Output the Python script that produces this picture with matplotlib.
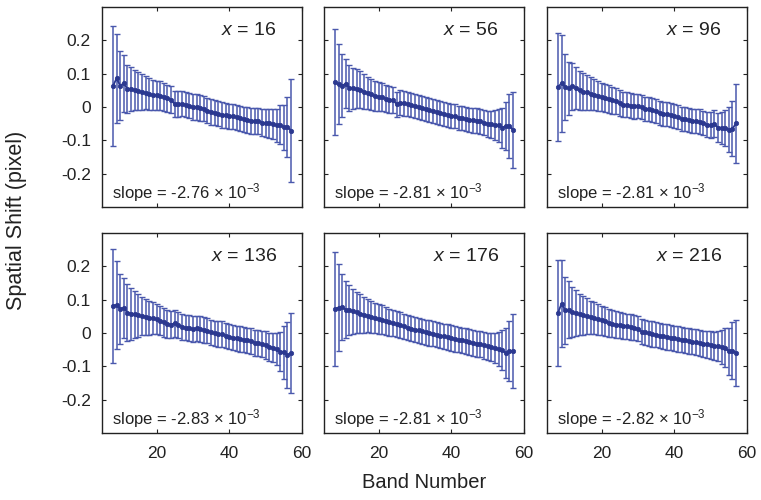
import numpy as np
import matplotlib
matplotlib.use("Agg")
import matplotlib.pyplot as plt

plt.rcParams['font.family'] = ['Liberation Sans', 'DejaVu Sans']
plt.rcParams['mathtext.fontset'] = 'custom'
plt.rcParams['mathtext.rm'] = 'Liberation Sans'
plt.rcParams['mathtext.it'] = 'Liberation Sans:italic'

bands = list(range(8, 58))

x_labels = [16, 56, 96, 136, 176, 216]
slopes = ["-2.76", "-2.81", "-2.81", "-2.83", "-2.81", "-2.82"]

mean_x16 = [0.062, 0.086, 0.064, 0.071, 0.054, 0.055, 0.050, 0.048, 0.045, 0.043,
            0.039, 0.036, 0.035, 0.034, 0.030, 0.026, 0.022, 0.008, 0.009, 0.010,
            0.007, 0.004, 0.000, 0.000, -0.003, -0.005, -0.011, -0.015, -0.017, -0.020,
            -0.024, -0.025, -0.028, -0.028, -0.031, -0.034, -0.037, -0.039, -0.041, -0.042,
            -0.043, -0.047, -0.048, -0.049, -0.051, -0.055, -0.053, -0.061, -0.059, -0.071]
err_x16 = [0.180, 0.134, 0.103, 0.085, 0.072, 0.066, 0.060, 0.056, 0.053, 0.050,
           0.048, 0.046, 0.044, 0.043, 0.042, 0.041, 0.040, 0.039, 0.039, 0.038,
           0.038, 0.038, 0.038, 0.038, 0.038, 0.038, 0.038, 0.038, 0.038, 0.038,
           0.038, 0.038, 0.038, 0.038, 0.038, 0.038, 0.038, 0.038, 0.039, 0.039,
           0.039, 0.040, 0.041, 0.043, 0.046, 0.050, 0.058, 0.068, 0.090, 0.155]

mean_x56 = [0.075, 0.068, 0.064, 0.070, 0.057, 0.056, 0.055, 0.052, 0.046, 0.042,
            0.038, 0.032, 0.031, 0.029, 0.025, 0.022, 0.021, 0.008, 0.013, 0.011,
            0.009, 0.006, 0.002, 0.000, -0.002, -0.006, -0.010, -0.013, -0.015, -0.018,
            -0.020, -0.024, -0.026, -0.028, -0.032, -0.032, -0.036, -0.038, -0.040, -0.041,
            -0.043, -0.047, -0.050, -0.052, -0.054, -0.055, -0.062, -0.058, -0.057, -0.069]
err_x56 = [0.160, 0.120, 0.095, 0.073, 0.070, 0.062, 0.058, 0.055, 0.052, 0.049,
           0.047, 0.045, 0.043, 0.042, 0.041, 0.040, 0.039, 0.038, 0.038, 0.037,
           0.037, 0.037, 0.036, 0.036, 0.036, 0.036, 0.036, 0.036, 0.036, 0.036,
           0.036, 0.036, 0.036, 0.036, 0.036, 0.036, 0.036, 0.036, 0.037, 0.037,
           0.037, 0.038, 0.039, 0.041, 0.045, 0.050, 0.060, 0.072, 0.095, 0.115]

mean_x96 = [0.060, 0.071, 0.060, 0.056, 0.062, 0.057, 0.050, 0.046, 0.044, 0.040,
            0.037, 0.034, 0.030, 0.028, 0.024, 0.020, 0.018, 0.012, 0.007, 0.007,
            0.004, 0.002, 0.002, 0.000, -0.005, -0.006, -0.010, -0.013, -0.018, -0.020,
            -0.022, -0.025, -0.027, -0.030, -0.035, -0.036, -0.040, -0.041, -0.042, -0.044,
            -0.048, -0.053, -0.055, -0.050, -0.062, -0.062, -0.063, -0.068, -0.065, -0.049]
err_x96 = [0.161, 0.145, 0.100, 0.080, 0.070, 0.064, 0.058, 0.055, 0.052, 0.049,
           0.047, 0.045, 0.043, 0.042, 0.041, 0.040, 0.039, 0.038, 0.038, 0.037,
           0.037, 0.037, 0.036, 0.036, 0.036, 0.036, 0.036, 0.036, 0.036, 0.036,
           0.036, 0.036, 0.036, 0.036, 0.036, 0.036, 0.036, 0.036, 0.037, 0.037,
           0.037, 0.038, 0.039, 0.041, 0.044, 0.048, 0.055, 0.068, 0.083, 0.118]

mean_x136 = [0.081, 0.084, 0.073, 0.075, 0.061, 0.058, 0.056, 0.053, 0.051, 0.049,
             0.046, 0.044, 0.042, 0.037, 0.032, 0.027, 0.025, 0.029, 0.024, 0.019,
             0.016, 0.015, 0.012, 0.014, 0.012, 0.009, 0.007, 0.002, -0.001, -0.003,
             -0.003, -0.008, -0.011, -0.014, -0.016, -0.018, -0.020, -0.022, -0.024, -0.029,
             -0.031, -0.033, -0.036, -0.041, -0.044, -0.048, -0.056, -0.058, -0.066, -0.061]
err_x136 = [0.170, 0.131, 0.105, 0.090, 0.085, 0.078, 0.070, 0.064, 0.058, 0.054,
            0.051, 0.048, 0.046, 0.044, 0.043, 0.042, 0.041, 0.040, 0.039, 0.039,
            0.038, 0.038, 0.038, 0.038, 0.038, 0.038, 0.038, 0.038, 0.038, 0.038,
            0.038, 0.038, 0.038, 0.038, 0.038, 0.038, 0.038, 0.038, 0.039, 0.039,
            0.039, 0.040, 0.041, 0.042, 0.044, 0.048, 0.058, 0.080, 0.100, 0.120]

mean_x176 = [0.072, 0.076, 0.078, 0.070, 0.068, 0.065, 0.062, 0.058, 0.055, 0.052,
             0.048, 0.045, 0.042, 0.040, 0.036, 0.032, 0.030, 0.026, 0.023, 0.020,
             0.016, 0.013, 0.010, 0.008, 0.005, 0.002, 0.000, -0.002, -0.005, -0.008,
             -0.010, -0.012, -0.015, -0.018, -0.020, -0.022, -0.024, -0.027, -0.030, -0.032,
             -0.034, -0.037, -0.040, -0.043, -0.046, -0.048, -0.052, -0.060, -0.055, -0.054]
err_x176 = [0.170, 0.130, 0.100, 0.085, 0.075, 0.068, 0.062, 0.058, 0.054, 0.050,
            0.048, 0.046, 0.044, 0.043, 0.042, 0.041, 0.040, 0.039, 0.039, 0.038,
            0.038, 0.038, 0.038, 0.038, 0.038, 0.038, 0.038, 0.038, 0.038, 0.038,
            0.038, 0.038, 0.038, 0.038, 0.038, 0.038, 0.038, 0.038, 0.039, 0.039,
            0.039, 0.040, 0.041, 0.042, 0.045, 0.050, 0.060, 0.075, 0.090, 0.110]

mean_x216 = [0.060, 0.088, 0.068, 0.070, 0.062, 0.060, 0.056, 0.053, 0.050, 0.047,
             0.044, 0.041, 0.038, 0.035, 0.031, 0.028, 0.025, 0.024, 0.022, 0.020,
             0.018, 0.016, 0.013, 0.004, 0.002, -0.001, -0.003, -0.005, -0.008, -0.010,
             -0.012, -0.014, -0.016, -0.018, -0.020, -0.022, -0.024, -0.026, -0.028, -0.030,
             -0.032, -0.034, -0.036, -0.038, -0.040, -0.042, -0.044, -0.055, -0.053, -0.060]
err_x216 = [0.160, 0.130, 0.100, 0.085, 0.075, 0.068, 0.062, 0.058, 0.054, 0.050,
            0.048, 0.046, 0.044, 0.043, 0.042, 0.041, 0.040, 0.039, 0.039, 0.038,
            0.038, 0.038, 0.038, 0.038, 0.038, 0.038, 0.038, 0.038, 0.038, 0.038,
            0.038, 0.038, 0.038, 0.038, 0.038, 0.038, 0.038, 0.038, 0.039, 0.039,
            0.039, 0.040, 0.041, 0.042, 0.045, 0.050, 0.058, 0.070, 0.085, 0.100]

means = [mean_x16, mean_x56, mean_x96, mean_x136, mean_x176, mean_x216]
errs = [err_x16, err_x56, err_x96, err_x136, err_x176, err_x216]

xticks = [20, 40, 60]
yticks = [-0.2, -0.1, 0, 0.1, 0.2]
ytick_labels = ["-0.2", "-0.1", "0", "0.1", "0.2"]

fig = plt.figure(figsize=(7.61, 5.00), dpi=100)
W, H = 761.0, 500.0
col_left = [102, 324, 547]
row_top = [7, 233]
aw, ah = 200, 200

color = '#2b3890'
ecolor = '#4a58ad'

for i in range(6):
    r, c = divmod(i, 3)
    ax = fig.add_axes([col_left[c] / W, 1 - (row_top[r] + ah) / H, aw / W, ah / H])
    ax.errorbar(bands, means[i], yerr=errs[i], fmt='none', ecolor=ecolor,
                elinewidth=1.1, capsize=2.2, capthick=1.0)
    ax.plot(bands, means[i], '-o', color=color, lw=1.3, markersize=3.2,
            markeredgecolor=color, markeredgewidth=0.5)
    ax.set_xlim(5, 60)
    ax.set_ylim(-0.3, 0.3)
    ax.set_xticks(xticks)
    ax.set_yticks(yticks)
    ax.tick_params(direction='in', top=True, right=True, length=3, width=0.8,
                   labelsize=12.5, colors='#222222')
    ax.tick_params(axis='x', pad=9)
    ax.tick_params(axis='y', pad=8)
    if r == 0:
        ax.set_xticklabels([])
    else:
        ax.set_xticklabels([str(t) for t in xticks])
    if c == 0:
        ax.set_yticklabels(ytick_labels)
    else:
        ax.set_yticklabels([])
    for s in ax.spines.values():
        s.set_linewidth(1.0)
        s.set_color('#222222')
    ax.text(0.875, 0.86, r'$x$ = %d' % x_labels[i], transform=ax.transAxes,
            ha='right', va='baseline', fontsize=14, color='#222222')
    ax.text(0.05, 0.045, r'slope = %s $\times$ 10$^{-3}$' % slopes[i], transform=ax.transAxes,
            ha='left', va='baseline', fontsize=12, color='#222222')

fig.text(424.5 / W, 1 - 483 / H, 'Band Number', ha='center', va='center', fontsize=14.5, color='#222222')
fig.text(17 / W, 1 - 220 / H, 'Spatial Shift (pixel)', ha='center', va='center',
         rotation=90, fontsize=15.5, color='#222222')

fig.savefig('out.png', dpi=100)
